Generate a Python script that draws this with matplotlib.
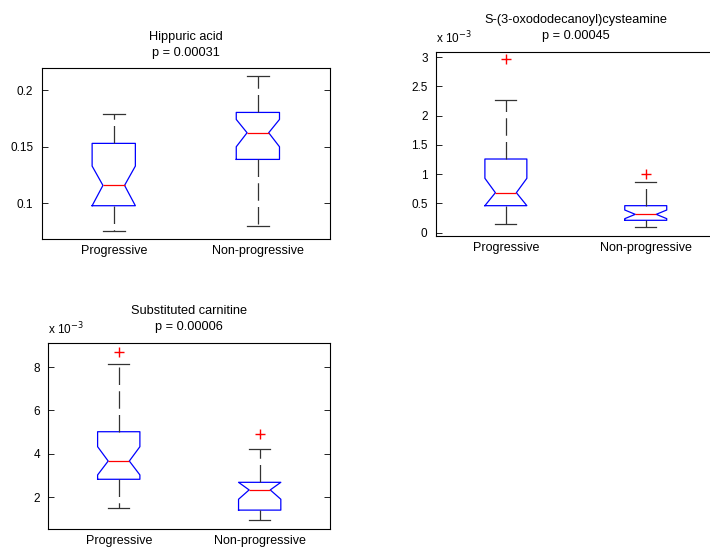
import numpy as np
import matplotlib.pyplot as plt
from matplotlib.ticker import FuncFormatter

plt.rcParams['font.family'] = ['Liberation Sans', 'DejaVu Sans']
plt.rcParams['font.size'] = 8.5

groups = ["Progressive", "Non-progressive"]

# box statistics per group: whislo, q1, cilo, med, cihi, q3, whishi, fliers
hippuric = {
    "whislo": [0.0758, 0.0802],
    "q1": [0.0979, 0.1389],
    "cilo": [0.0979, 0.1501],
    "med": [0.1159, 0.1625],
    "cihi": [0.1330, 0.1743],
    "q3": [0.1531, 0.1805],
    "whishi": [0.1793, 0.2129],
    "fliers": [[], []],
}

cysteamine = {
    "whislo": [0.144e-3, 0.103e-3],
    "q1": [0.462e-3, 0.212e-3],
    "cilo": [0.462e-3, 0.240e-3],
    "med": [0.684e-3, 0.314e-3],
    "cihi": [0.930e-3, 0.388e-3],
    "q3": [1.260e-3, 0.462e-3],
    "whishi": [2.270e-3, 0.862e-3],
    "fliers": [[2.976e-3], [1.004e-3]],
}

carnitine = {
    "whislo": [1.49e-3, 0.95e-3],
    "q1": [2.83e-3, 1.41e-3],
    "cilo": [3.03e-3, 1.91e-3],
    "med": [3.67e-3, 2.34e-3],
    "cihi": [4.33e-3, 2.69e-3],
    "q3": [5.02e-3, 2.69e-3],
    "whishi": [8.15e-3, 4.22e-3],
    "fliers": [[8.69e-3], [4.92e-3]],
}

panels = [
    ("Hippuric acid\np = 0.00031", hippuric, [0.0587, 0.563, 0.406, 0.312], (0.0684, 0.2195), [0.1, 0.15, 0.2], False),
    ("S-(3-oxododecanoyl)cysteamine\np = 0.00045", cysteamine, [0.614, 0.5686, 0.394, 0.337], (-0.056e-3, 3.096e-3),
     [0, 0.5e-3, 1e-3, 1.5e-3, 2e-3, 2.5e-3, 3e-3], True),
    ("Substituted carnitine\np = 0.00006", carnitine, [0.068, 0.0329, 0.397, 0.3406], (0.54e-3, 9.12e-3),
     [2e-3, 4e-3, 6e-3, 8e-3], True),
]


def make_stats(d):
    out = []
    for i, name in enumerate(groups):
        out.append({
            "label": name,
            "whislo": d["whislo"][i], "q1": d["q1"][i], "cilo": d["cilo"][i],
            "med": d["med"][i], "cihi": d["cihi"][i], "q3": d["q3"][i],
            "whishi": d["whishi"][i], "fliers": d["fliers"][i],
        })
    return out


fig = plt.figure(figsize=(7.1, 5.47), dpi=100)

for title, data, rect, ylim, yticks, scaled in panels:
    ax = fig.add_axes(rect)
    ax.bxp(make_stats(data), positions=[1, 2], widths=0.3, shownotches=True,
           boxprops=dict(color="blue", linewidth=0.9),
           medianprops=dict(color="red", linewidth=0.9),
           whiskerprops=dict(color="#333333", linestyle=(0, (14, 5)), linewidth=0.9),
           capprops=dict(color="#333333", linewidth=0.9),
           flierprops=dict(marker="+", markeredgecolor="red", markersize=7, linestyle="none"))
    ax.set_xlim(0.5, 2.5)
    ax.set_ylim(*ylim)
    ax.set_yticks(yticks)
    ax.set_title(title, fontsize=9.2, pad=9, linespacing=1.45)
    ax.tick_params(axis="y", direction="in", right=True, length=4, width=0.6, pad=6, labelsize=8.5)
    ax.tick_params(axis="x", length=0, pad=4, labelsize=9)
    for s in ax.spines.values():
        s.set_linewidth(0.8)
    if scaled:
        ax.yaxis.set_major_formatter(FuncFormatter(lambda v, p: "%g" % round(v * 1e3, 6)))
        ax.text(0.0, 1.03, "x 10$^{-3}$", transform=ax.transAxes, ha="left", va="bottom", fontsize=8.5)
    else:
        ax.yaxis.set_major_formatter(FuncFormatter(lambda v, p: "%g" % round(v, 6)))

fig.savefig("out.png", dpi=100)
